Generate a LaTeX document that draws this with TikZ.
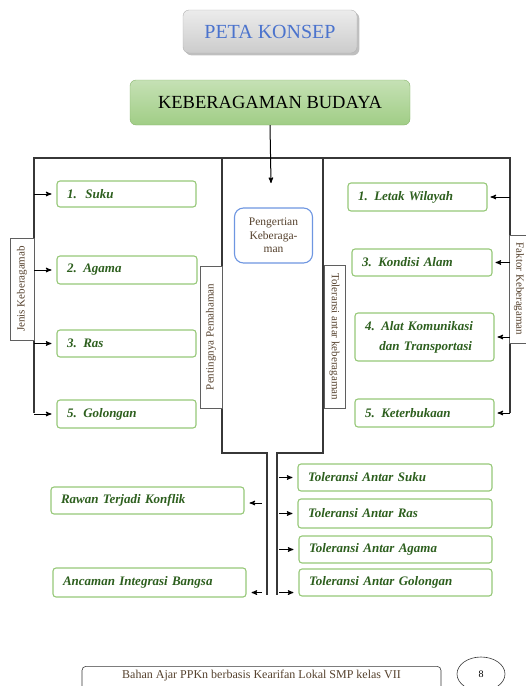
\documentclass[tikz,border=0pt]{standalone}
\usepackage{fontspec}
\setmainfont{Liberation Serif}
\usetikzlibrary{arrows,calc,positioning,shapes.geometric,shadows}
\definecolor{hijau}{RGB}{150,200,120}
\definecolor{hijautua}{RGB}{45,95,30}
\definecolor{garis}{RGB}{55,55,55}
\definecolor{biru}{RGB}{110,150,225}
\definecolor{birujudul}{RGB}{75,115,205}
\definecolor{coklat}{RGB}{85,65,45}
\tikzset{
  konsep/.style args={#1,#2}{
  draw=hijau,
  rounded corners=3pt,
  line width=1.1pt,
  fill=white,
  inner xsep=10pt,
  text width=#1pt-20pt,
  align=left,
  minimum height=#2pt,
  text=hijautua,
  font=\fontsize{13}{20}\selectfont\bfseries\itshape
  },
  labelbox/.style args={#1,#2}{
  draw=garis!80,
  fill=white,
  semithick,
  inner sep=0pt,
  minimum width=#1pt,
  minimum height=#2pt,
  text=coklat,
  font=\fontsize{11}{12}\selectfont
  },
  garisutama/.style={draw=garis,line width=1.8pt},
  panah/.style={->,>=stealth',line width=1pt,shorten >=5pt}
}
\begin{document}
\begin{tikzpicture}[x=1pt,y=-1pt]
  \useasboundingbox (0,0) rectangle (526,686);
  \clip (0,0) rectangle (526,686);

  \node [rounded corners=6pt,draw=gray!60,top color=gray!15,bottom color=gray!40,drop shadow,
         minimum width=174pt,minimum height=43pt,text=birujudul,font=\fontsize{20}{22}\selectfont]
        (peta) at (270,31.5) {PETA KONSEP};
  \node [rounded corners=6pt,draw=hijau!90!black,top color=hijau!55,bottom color=hijau!90,
         minimum width=280pt,minimum height=45pt,font=\fontsize{18.5}{20}\selectfont]
        (budaya) at (270,102.5) {KEBERAGAMAN BUDAYA};

  \coordinate (kiri) at (34,158);
  \coordinate (kanan) at (510,158);
  \coordinate (tengahkiri) at (222,158);
  \coordinate (tengahkanan) at (323,158);
  \coordinate (ujung) at (271,183);
  \coordinate (bawahkiri) at (267,595);
  \coordinate (bawahkanan) at (277,595);

  \draw[garisutama] (34,413) -- (kiri) -- (kanan) -- (510,413);
  \draw[garisutama] (tengahkiri) -- (222,453) -- (267,453) -- (bawahkiri);
  \draw[garisutama] (tengahkanan) -- (323,453) -- (277,453) -- (bawahkanan);
  \draw[->,>=stealth',line width=1pt] (budaya.south) -- (ujung);

  \node [draw=biru,rounded corners=9pt,line width=1.1pt,fill=white,minimum width=78pt,minimum height=55pt,
         align=center,text=coklat,font=\fontsize{11.5}{13.5}\selectfont] (pengertian) at (273.5,235.5) {Pengertian\\Keberaga-\\man};

  % jenis keberagaman
  \node [konsep={139,26}] (suku) at (126.5,194) {1.~~Suku};
  \node [konsep={140,28}] (agama) at (127,270) {2. Agama};
  \node [konsep={139,27}] (ras) at (126.5,343.5) {3. Ras};
  \node [konsep={139,28}] (golongan) at (126.5,414) {5. Golongan};

  % faktor keberagaman
  \node [konsep={139,28}] (letak) at (417.5,197) {1. Letak Wilayah};
  \node [konsep={140,27}] (kondisi) at (422,262.5) {3. Kondisi Alam};
  \node [konsep={139,48}] (alat) at (424.5,337) {4. Alat Komunikasi\\\hspace{1.1em}dan Transportasi};
  \node [konsep={139,28}] (keterbukaan) at (424.5,413) {5. Keterbukaan};

  % toleransi
  \node [konsep={194,27}] (tsuku) at (395,477.5) {Toleransi Antar Suku};
  \node [konsep={194,29}] (tras) at (395,513.5) {Toleransi Antar Ras};
  \node [konsep={193,27}] (tagama) at (395.5,549.5) {Toleransi Antar Agama};
  \node [konsep={193,27}] (tgolongan) at (395.5,582.5) {Toleransi Antar Golongan};

  \node [konsep={193,27}] (rawan) at (147.5,500.5) {Rawan Terjadi Konflik};
  \node [konsep={193,29}] (ancaman) at (149.5,582.5) {Ancaman Integrasi Bangsa};

  \node [labelbox={102,24},rotate=90] (jenis) at (22,289) {Jenis Keberagamab};
  \node [labelbox={142,22},rotate=90] (penting) at (211,337) {Pentingnya Pemahaman};
  \node [labelbox={143,21},rotate=-90] (toleransi) at (334.5,336.5) {Toleransi antar keberagaman};
  \node [labelbox={108,20},rotate=-90] (faktor) at (519,289) {Faktor Keberagaman};

  \foreach \n in {suku,agama,ras,golongan}
    \draw[panah] (\n.west -| kiri) -- (\n.west);
  \foreach \n in {letak,kondisi,alat,keterbukaan}
    \draw[panah,shorten >=3pt] (\n.east -| kanan) -- (\n.east);
  \foreach \n in {tsuku,tras,tagama}
    \draw[panah,shorten <=2pt] (\n.west -| bawahkanan) -- (\n.west);
  \coordinate (tg) at ($(tgolongan.south west)+(0,-4)$);
  \draw[panah,shorten <=2pt] (tg -| bawahkanan) -- (tg);
  \coordinate (rw) at ($(rawan.east)+(0,2.5)$);
  \coordinate (ac) at ($(ancaman.south east)+(0,-5)$);
  \draw[panah,shorten <=5pt] (rw -| bawahkiri) -- (rw);
  \draw[panah,shorten <=5pt] (ac -| bawahkiri) -- (ac);

  \node [draw=garis,rounded corners=4pt,semithick,anchor=north,minimum width=359pt,
         inner ysep=3.5pt,text depth=14pt,text=coklat,font=\fontsize{12}{13}\selectfont]
        (footer) at (261.5,666) {Bahan Ajar PPKn berbasis Kearifan Lokal SMP kelas VII};
  \node [ellipse,draw=garis,semithick,minimum width=48pt,minimum height=34pt,
         font=\fontsize{10}{12}\selectfont] (hal) at (481,674) {8};
\end{tikzpicture}
\end{document}
